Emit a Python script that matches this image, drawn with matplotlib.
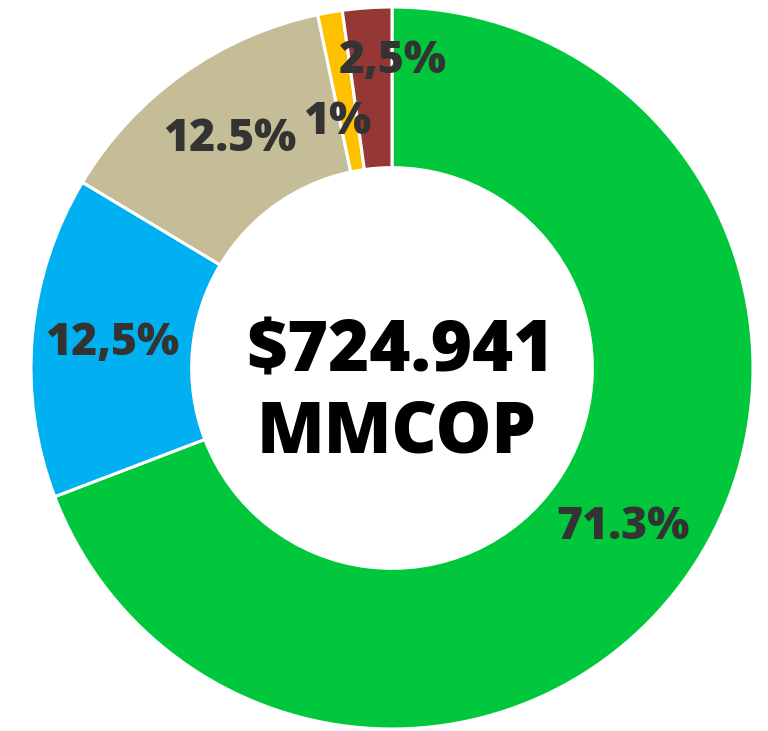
import matplotlib
matplotlib.use("Agg")
import matplotlib.pyplot as plt

# Data (share of total), label strings as shown
categories = ["Verde", "Azul", "Beige", "Amarillo", "Rojo"]
values = [69.2, 14.4, 13.1, 1.1, 2.2]
labels = ["71.3%", "12,5%", "12.5%", "1%", "2,5%"]
colors = ["#00C73C", "#00B0F0", "#C4BD97", "#FFC000", "#953735"]
center_lines = ["$724.941", "MMCOP"]

fam = ["Open Sans", "DejaVu Sans"]

fig = plt.figure(figsize=(7.68, 7.31), dpi=100)
fig.patch.set_facecolor("white")
R_px = 361
cx, cy = 392, 368
W, H = 768, 731
ax = fig.add_axes([(cx - R_px) / W, (H - cy - R_px) / H, 2 * R_px / W, 2 * R_px / H])

wedges, texts = ax.pie(
    values, colors=colors, startangle=90, counterclock=False,
    labels=labels, labeldistance=0.777,
    wedgeprops=dict(width=0.445, edgecolor="white", linewidth=2.2),
    textprops=dict(fontsize=32, fontweight="heavy", color="#333333",
                   ha="center", va="center", family=fam),
)
# small wedges: labels shifted as in the reference
texts[3].set_position((-0.152, 0.68))
texts[4].set_position((0.004, 0.85))

ax.set_xlim(-1, 1)
ax.set_ylim(-1, 1)
ax.set_aspect("equal")
ax.axis("off")

ax.text(0.022, -0.011, center_lines[0], ha="center", va="baseline",
        fontsize=50.5, fontweight="heavy", color="black", family=fam)
ax.text(0.014, -0.235, center_lines[1], ha="center", va="baseline",
        fontsize=50.5, fontweight="heavy", color="black", family=fam)

fig.savefig("out.png", dpi=100, facecolor="white")
